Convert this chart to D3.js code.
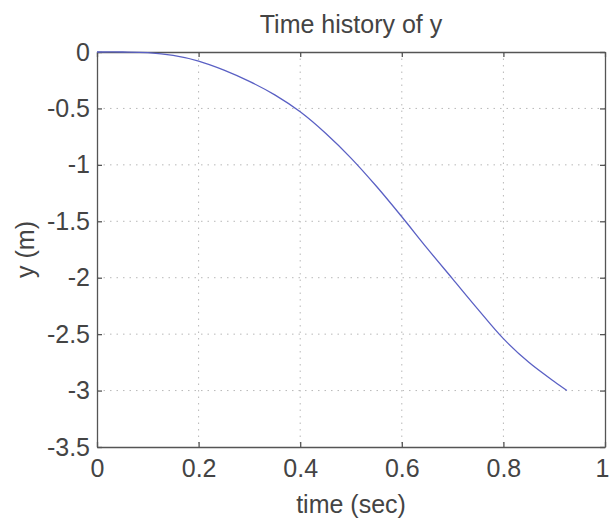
<!DOCTYPE html>
<html>
<head>
<meta charset="utf-8">
<script src="https://cdn.jsdelivr.net/npm/d3@7"></script>
<style>
  body { margin: 0; background: #fff; }
  text { font-family: "Liberation Sans", Arial, sans-serif; fill: #444; }
</style>
</head>
<body>
<script>
const width = 609;
const height = 521;

// values
const time = [0, 0.05, 0.1, 0.15, 0.2, 0.25, 0.3, 0.35, 0.4, 0.45, 0.5, 0.55, 0.6, 0.65, 0.7, 0.75, 0.8, 0.85, 0.9, 0.925];
const yPos = [0, 0, -0.005, -0.03, -0.08, -0.16, -0.26, -0.38, -0.53, -0.72, -0.94, -1.19, -1.46, -1.74, -2.01, -2.28, -2.54, -2.75, -2.92, -3.0];
const xTicks = [0, 0.2, 0.4, 0.6, 0.8, 1];
const yTicks = [0, -0.5, -1, -1.5, -2, -2.5, -3, -3.5];

const margin = {top: 52, right: 4, bottom: 74, left: 97};

const svg = d3.select("body").append("svg")
	.attr("width", width)
	.attr("height", height);

const x = d3.scaleLinear().domain([0, 1]).range([margin.left, width - margin.right]);
const y = d3.scaleLinear().domain([-3.5, 0]).range([height - margin.bottom, margin.top]);

// dotted grid
svg.append("g")
	.selectAll("line")
	.data(xTicks.slice(1, -1))
	.join("line")
	.attr("x1", d => x(d)).attr("x2", d => x(d))
	.attr("y1", y(0)).attr("y2", y(-3.5))
	.attr("stroke", "#b8b8b8")
	.attr("stroke-dasharray", "1.5,5");

svg.append("g")
	.selectAll("line")
	.data(yTicks.slice(1, -1))
	.join("line")
	.attr("y1", d => y(d)).attr("y2", d => y(d))
	.attr("x1", x(0)).attr("x2", x(1))
	.attr("stroke", "#b8b8b8")
	.attr("stroke-dasharray", "1.5,5");

// axes, ticks pointing inward
const fmt = d => String(d);

const xAxis = svg.append("g")
	.attr("transform", `translate(0,${y(-3.5)})`)
	.call(d3.axisBottom(x).tickValues(xTicks).tickFormat(fmt).tickSizeInner(-5).tickSizeOuter(0).tickPadding(12));

// last label sits at the page edge, nudge it in so it stays whole
xAxis.selectAll(".tick text").filter(d => d === 1).attr("dx", -3);

const xTop = svg.append("g")
	.attr("transform", `translate(0,${y(0)})`)
	.call(d3.axisTop(x).tickValues(xTicks).tickFormat("").tickSizeInner(-5).tickSizeOuter(0));

const yAxis = svg.append("g")
	.attr("transform", `translate(${x(0)},0)`)
	.call(d3.axisLeft(y).tickValues(yTicks).tickFormat(fmt).tickSizeInner(-5).tickSizeOuter(0).tickPadding(7));

const yRight = svg.append("g")
	.attr("transform", `translate(${x(1)},0)`)
	.call(d3.axisRight(y).tickValues(yTicks).tickFormat("").tickSizeInner(-5).tickSizeOuter(0));

[xAxis, xTop, yAxis, yRight].forEach(g => {
	g.selectAll("path, line").attr("stroke", "#555").attr("stroke-width", 1.3);
	g.selectAll("text").attr("font-size", 25).attr("fill", "#444")
		.style("font-family", '"Liberation Sans", Arial, sans-serif');
});

// curve
const line = d3.line()
	.x((d, i) => x(time[i]))
	.y(d => y(d))
	.curve(d3.curveCatmullRom.alpha(0.5));

svg.append("path")
	.datum(yPos)
	.attr("d", line)
	.attr("fill", "none")
	.attr("stroke", "#5a60c4")
	.attr("stroke-width", 1.3);

// labels
svg.append("text")
	.attr("x", (x(0) + x(1)) / 2)
	.attr("y", 33)
	.attr("text-anchor", "middle")
	.attr("font-size", 25)
	.text("Time history of y");

svg.append("text")
	.attr("x", (x(0) + x(1)) / 2)
	.attr("y", 513)
	.attr("text-anchor", "middle")
	.attr("font-size", 25)
	.text("time (sec)");

svg.append("text")
	.attr("transform", `translate(34,${(y(0) + y(-3.5)) / 2}) rotate(-90)`)
	.attr("text-anchor", "middle")
	.attr("font-size", 25)
	.text("y (m)");
</script>
</body>
</html>
